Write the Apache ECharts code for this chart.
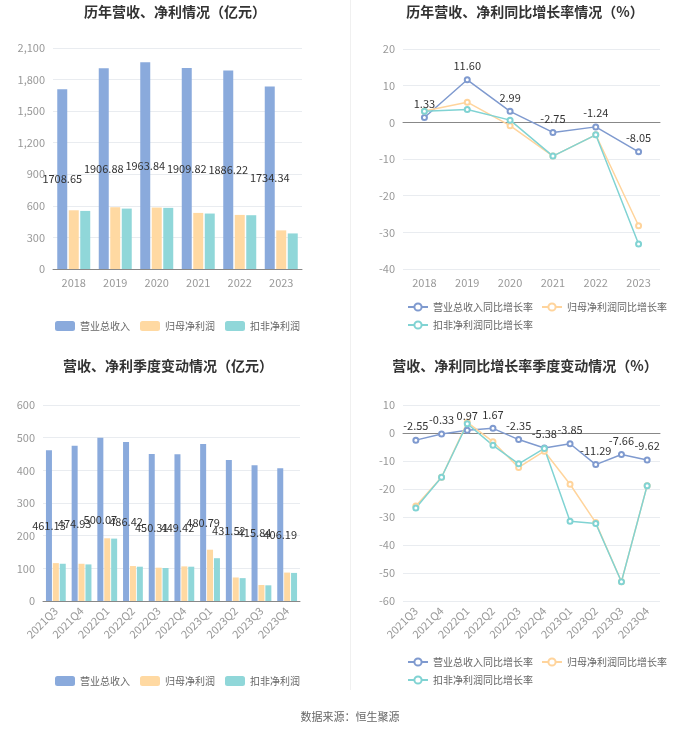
<!DOCTYPE html>
<html><head><meta charset="utf-8">
<script src="https://cdn.jsdelivr.net/npm/echarts@6/dist/echarts.min.js"></script>
<style>html,body{margin:0;padding:0;background:#fff;}#c{width:700px;height:734px;}</style>
</head><body><div id="c"></div>
<script>
var years = ['2018','2019','2020','2021','2022','2023'];
var yearRevenue = [1708.65, 1906.88, 1963.84, 1909.82, 1886.22, 1734.34];
var yearNetProfit = [558, 587, 584, 533, 514, 367];
var yearDeductProfit = [552, 574, 581, 527, 511, 338];
var yearRevenueGrowth = [1.33, 11.60, 2.99, -2.75, -1.24, -8.05];
var yearNetGrowth = [3.1, 5.5, -0.9, -9.2, -3.4, -28.2];
var yearDeductGrowth = [3.0, 3.5, 0.6, -9.2, -3.4, -33.2];

var quarters = ['2021Q3','2021Q4','2022Q1','2022Q2','2022Q3','2022Q4','2023Q1','2023Q2','2023Q3','2023Q4'];
var qRevenue = [461.13, 474.93, 500.07, 486.42, 450.31, 449.42, 480.79, 431.52, 415.84, 406.19];
var qNetProfit = [116, 114, 192, 107, 102, 106, 157, 72, 49, 87];
var qDeductProfit = [114, 112, 191, 105, 101, 105, 131, 70, 48, 86];
var qRevenueGrowth = [-2.55, -0.33, 0.97, 1.67, -2.35, -5.38, -3.85, -11.29, -7.66, -9.62];
var qNetGrowth = [-26.1, -15.8, 3.8, -3.1, -12.3, -6.5, -18.3, -32.0, -53.1, -18.8];
var qDeductGrowth = [-26.8, -15.8, 3.3, -4.4, -11.0, -5.5, -31.5, -32.3, -53.1, -18.8];

var FONT = '"Noto Sans CJK SC","Noto Sans",sans-serif';
var C_BLUE = '#8aaadc', C_ORANGE = '#ffd9a2', C_TEAL = '#90d7d9';
var L_BLUE = '#7f9acf', L_ORANGE = '#ffd49c', L_TEAL = '#80d3d3';

function valAxis(grid, min, max, interval, fmt) {
  return {type:'value', gridIndex:grid, min:min, max:max, interval:interval,
    axisLine:{show:false}, axisTick:{show:false},
    axisLabel:{color:'#999', fontSize:11, fontFamily:FONT, formatter:fmt},
    splitLine:{lineStyle:{color:'#e9ecf0'}}};
}
function catAxis(grid, data, rotate) {
  return {type:'category', gridIndex:grid, data:data,
    axisLine:{lineStyle:{color:'#888'}}, axisTick:{alignWithLabel:true, lineStyle:{color:'#888'}},
    axisLabel:{color:'#999', fontSize:11, fontFamily:FONT, rotate:rotate||0, interval:0}};
}
function barSeries(name, data, color, xi, bw, label) {
  return {type:'bar', name:name, xAxisIndex:xi, yAxisIndex:xi, data:data, barWidth:bw, barGap:'15%',
    itemStyle:{color:color},
    label: label ? {show:true, position:'inside', color:'#333', fontSize:11, fontFamily:FONT} : {show:false}};
}
function lineSeries(name, data, color, xi, yi, label) {
  return {type:'line', name:name, xAxisIndex:xi, yAxisIndex:yi, data:data,
    symbol:'emptyCircle', symbolSize:5, lineStyle:{color:color, width:1.5}, itemStyle:{color:color},
    label: label ? {show:true, position:'top', color:'#333', fontSize:11, fontFamily:FONT, formatter:function(p){return p.value.toFixed(2);}} : {show:false}};
}
function thousands(v){ return v.toLocaleString('en-US'); }

var chart = echarts.init(document.getElementById('c'), null, {renderer:'canvas'});
var legendText = {color:'#666', fontSize:10, fontFamily:FONT};
chart.setOption({
  animation:false,
  backgroundColor:'#fff',
  graphic:[
    {type:'text', x:175, y:12, style:{text:'历年营收、净利情况（亿元）', fill:'#333', font:'bold 14px '+FONT, textAlign:'center', textVerticalAlign:'middle'}},
    {type:'text', x:525, y:12, style:{text:'历年营收、净利同比增长率情况（%）', fill:'#333', font:'bold 14px '+FONT, textAlign:'center', textVerticalAlign:'middle'}},
    {type:'text', x:168, y:366, style:{text:'营收、净利季度变动情况（亿元）', fill:'#333', font:'bold 14px '+FONT, textAlign:'center', textVerticalAlign:'middle'}},
    {type:'text', x:525, y:366, style:{text:'营收、净利同比增长率季度变动情况（%）', fill:'#333', font:'bold 14px '+FONT, textAlign:'center', textVerticalAlign:'middle'}},
    {type:'text', x:350, y:717, style:{text:'数据来源：恒生聚源', fill:'#666', font:'11px '+FONT, textAlign:'center', textVerticalAlign:'middle'}},
    {type:'line', shape:{x1:350.5, y1:0, x2:350.5, y2:690}, style:{stroke:'#f0f0f0', lineWidth:1}}
  ],
  grid:[
    {left:53, top:48, width:249, height:221},
    {left:403, top:49, width:257, height:220},
    {left:43, top:405, width:257, height:196},
    {left:403, top:405, width:257, height:196}
  ],
  legend:[
    {left:50, top:316, itemWidth:20, itemHeight:10, itemGap:10, textStyle:legendText,
     data:['营业总收入','归母净利润','扣非净利润']},
    {left:402, top:297, width:270, itemWidth:20, itemHeight:9, itemGap:8, textStyle:legendText,
     data:['营业总收入同比增长率','归母净利润同比增长率','扣非净利润同比增长率']},
    {left:50, top:671, itemWidth:20, itemHeight:10, itemGap:10, textStyle:legendText,
     data:['营业总收入','归母净利润','扣非净利润']},
    {left:402, top:652, width:270, itemWidth:20, itemHeight:9, itemGap:8, textStyle:legendText,
     data:['营业总收入同比增长率','归母净利润同比增长率','扣非净利润同比增长率']}
  ],
  xAxis:[
    catAxis(0, years),
    Object.assign(catAxis(1, years), {axisLabel:{show:false}, axisLine:{onZero:true, lineStyle:{color:'#888'}}}),
    catAxis(2, quarters, 45),
    Object.assign(catAxis(3, quarters, 45), {axisLabel:{show:false}, axisLine:{onZero:true, lineStyle:{color:'#888'}}}),
    Object.assign(catAxis(1, years), {position:'bottom', axisLine:{show:false, onZero:false}, axisTick:{show:false}}),
    Object.assign(catAxis(3, quarters, 45), {position:'bottom', axisLine:{show:false, onZero:false}, axisTick:{show:false}})
  ],
  yAxis:[
    valAxis(0, 0, 2100, 300, thousands),
    valAxis(1, -40, 20, 10),
    valAxis(2, 0, 600, 100),
    valAxis(3, -60, 10, 10)
  ],
  series:[
    barSeries('营业总收入', yearRevenue, C_BLUE, 0, 10, true),
    barSeries('归母净利润', yearNetProfit, C_ORANGE, 0, 10, false),
    barSeries('扣非净利润', yearDeductProfit, C_TEAL, 0, 10, false),
    lineSeries('营业总收入同比增长率', yearRevenueGrowth, L_BLUE, 1, 1, true),
    lineSeries('归母净利润同比增长率', yearNetGrowth, L_ORANGE, 1, 1, false),
    lineSeries('扣非净利润同比增长率', yearDeductGrowth, L_TEAL, 1, 1, false),
    barSeries('营业总收入', qRevenue, C_BLUE, 2, 6, true),
    barSeries('归母净利润', qNetProfit, C_ORANGE, 2, 6, false),
    barSeries('扣非净利润', qDeductProfit, C_TEAL, 2, 6, false),
    lineSeries('营业总收入同比增长率', qRevenueGrowth, L_BLUE, 3, 3, true),
    lineSeries('归母净利润同比增长率', qNetGrowth, L_ORANGE, 3, 3, false),
    lineSeries('扣非净利润同比增长率', qDeductGrowth, L_TEAL, 3, 3, false)
  ]
});
</script></body></html>
